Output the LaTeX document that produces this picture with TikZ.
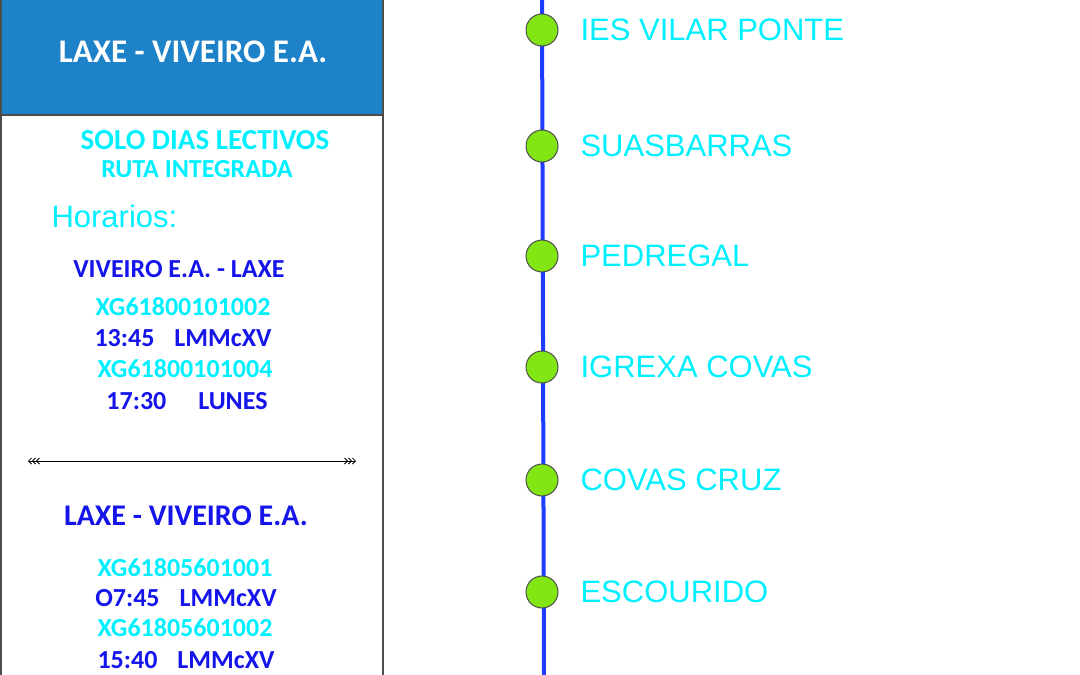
\documentclass[tikz,border=0pt]{standalone}
\usepackage{fontspec}
\setmainfont{Liberation Sans}
\newfontfamily\carfont{Carlito}
\usetikzlibrary{arrows.meta}
\definecolor{hdrblue}{RGB}{30,130,200}
\definecolor{txtcyan}{RGB}{0,240,255}
\definecolor{txtblue}{RGB}{20,20,235}
\definecolor{linblue}{RGB}{30,60,255}
\definecolor{stopgreen}{RGB}{130,230,20}
\tikzset{
  stop/.style={circle,draw=black!70,fill=stopgreen,line width=1pt,minimum size=32pt,inner sep=0pt},
  stname/.style={anchor=west,text=txtcyan,font=\fontsize{31}{33}\selectfont},
  cy/.style={text=txtcyan,font=\carfont\bfseries\fontsize{26}{28}\selectfont},
  bl/.style={text=txtblue,font=\carfont\bfseries\fontsize{26}{28}\selectfont}
}
\begin{document}
\begin{tikzpicture}[x=1pt,y=-1pt]
\useasboundingbox (0,0) rectangle (1080,675);
% Left panel
\draw[black!70,line width=1.5pt,fill=white] (1,-5) rectangle (383,690);
\draw[black!70,line width=1.5pt,fill=hdrblue] (1,-5) rectangle (383,115);
\node[text=white,font=\carfont\bfseries\fontsize{33}{35}\selectfont] (title) at (193,52) {LAXE - VIVEIRO E.A.};
\node[cy,font=\carfont\bfseries\fontsize{29}{31}\selectfont] (solo) at (205,140) {SOLO DIAS LECTIVOS};
\node[cy] (ruta) at (197,169) {RUTA INTEGRADA};
\node[anchor=west,text=txtcyan,font=\fontsize{31}{33}\selectfont] (hor) at (48,216) {Horarios:};
% Viveiro - Laxe
\node[bl] (ida) at (179,269) {VIVEIRO E.A. - LAXE};
\node[cy] (c1) at (183,307) {XG61800101002};
\node[bl] (h1) at (183,338) {13:45\hspace{20pt}LMMcXV};
\node[cy] (c2) at (185,369) {XG61800101004};
\node[bl] (h2) at (187,401) {17:30\hspace{32pt}LUNES};
% Divider
\coordinate (dl) at (28,461);
\coordinate (dr) at (356,461);
\draw[line width=0.8pt,{Straight Barb[length=3pt,width=6pt] Straight Barb[length=3pt,width=6pt] Straight Barb[length=3pt,width=6pt]}-{Straight Barb[length=3pt,width=6pt] Straight Barb[length=3pt,width=6pt] Straight Barb[length=3pt,width=6pt]}] (dl) -- (dr);
% Laxe - Viveiro
\node[bl,font=\carfont\bfseries\fontsize{30}{32}\selectfont] (volta) at (186,516) {LAXE - VIVEIRO E.A.};
\node[cy] (c3) at (185,568) {XG61805601001};
\node[bl] (h3) at (186,598) {O7:45\hspace{20pt}LMMcXV};
\node[cy] (c4) at (185,628) {XG61805601002};
\node[bl] (h4) at (186,660) {15:40\hspace{20pt}LMMcXV};
% Route
\coordinate (top) at (542,-5);
\coordinate (bot) at (544,680);
\draw[linblue,line width=4pt] (top) -- (bot);
\foreach \y/\nm/\lab in {30/s1/IES VILAR PONTE,146/s2/SUASBARRAS,256/s3/PEDREGAL,367/s4/IGREXA COVAS,480/s5/COVAS CRUZ,592/s6/ESCOURIDO}{
  \node[stop] (\nm) at (542,\y) {};
  \node[stname] (\nm l) at (577,\y) {\lab};
}
\end{tikzpicture}
\end{document}
